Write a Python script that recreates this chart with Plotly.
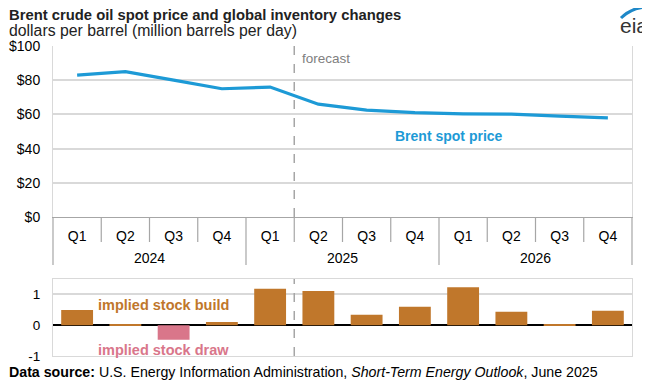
import plotly.graph_objects as go
from plotly.subplots import make_subplots

years = ["2024"] * 4 + ["2025"] * 4 + ["2026"] * 4
quarters = ["Q1", "Q2", "Q3", "Q4"] * 3
brent_price = [83, 85, 80, 75, 76, 66, 62.5, 61, 60.3, 60.2, 59, 58]
stock_change = [0.49, 0.03, -0.47, 0.1, 1.18, 1.11, 0.34, 0.6, 1.23, 0.44, 0.03, 0.47]
price_ticks = [0, 20, 40, 60, 80, 100]
price_labels = ["$0", "$20", "$40", "$60", "$80", "$100"]
stock_ticks = [-1, 0, 1]
stock_labels = ["-1", "0", "1"]

n = len(quarters)
idx = list(range(n))
year_names = list(dict.fromkeys(years))
year_pos = [sum(i for i in idx if years[i] == y) / years.count(y) for y in year_names]

W, H = 650, 381
OFF = 8  # page body margin offset in the browser
# plot area in screen pixels
SL, SR, ST, SB = 53, 632, 46, 356
L, T = SL - OFF, ST - OFF
R, B = W - (SR - OFF), H - (SB - OFF)
PW, PH = SR - SL, SB - ST


def px(sx):
    return (sx - SL) / PW


def py(sy):
    return (SB - sy) / PH


BLUE = "#1D9AD6"
BROWN = "#C0772B"
PINK = "#D9768A"
GRID = "#D9D9D9"
DARK = "#A6A6A6"
FONT = "Liberation Sans, Arial, sans-serif"

fig = make_subplots(rows=2, cols=1, shared_xaxes=False, vertical_spacing=0.0)

fig.add_trace(go.Scatter(x=idx, y=brent_price, mode="lines",
                         line=dict(color=BLUE, width=3.2), showlegend=False),
              row=1, col=1)

bar_colors = [BROWN if v >= 0 else PINK for v in stock_change]
fig.add_trace(go.Bar(x=idx, y=stock_change, marker_color=bar_colors,
                     marker_line_width=0, showlegend=False), row=2, col=1)

# invisible carrier trace for the year axis
fig.add_trace(go.Scatter(x=year_pos, y=[None] * len(year_pos), xaxis="x3", yaxis="y",
                         mode="markers", hoverinfo="skip", showlegend=False))

top_domain = [py(217), py(46)]
bot_domain = [py(356), py(279)]
xr = [-0.5, n - 0.5]

fig.update_layout(
    width=W, height=H,
    margin=dict(l=L, r=R, t=T, b=B, autoexpand=False),
    paper_bgcolor="white", plot_bgcolor="white",
    font=dict(family=FONT, color="#000000", size=14),
    bargap=0.34,
    xaxis=dict(domain=[0, 1], range=xr, tickvals=idx, ticktext=quarters,
               showline=True, linecolor=DARK, linewidth=1.2, mirror=False,
               showgrid=False, zeroline=False, automargin=False,
               tickfont=dict(size=14, color="#000000"), ticks="", ticklabelstandoff=6),
    xaxis3=dict(domain=[0, 1], range=xr, overlaying="x", anchor="free",
                position=py(244), side="bottom", tickvals=year_pos, ticktext=year_names,
                showline=False, showgrid=False, zeroline=False, automargin=False,
                tickfont=dict(size=14, color="#000000"), ticks="", ticklabelstandoff=4),
    yaxis=dict(domain=top_domain, range=[0, 100], tickvals=price_ticks,
               ticktext=price_labels, showgrid=True, gridcolor=GRID, gridwidth=1.5,
               zeroline=False, showline=True, linecolor=GRID, mirror=True,
               automargin=False,
               tickfont=dict(size=14, color="#000000"), ticks="", ticklabelstandoff=9),
    xaxis2=dict(domain=[0, 1], range=xr, showticklabels=False, showline=True,
                linecolor=GRID, mirror=True, showgrid=False, zeroline=False,
                ticks="", automargin=False),
    yaxis2=dict(domain=bot_domain, range=[-1, 1.5], tickvals=stock_ticks,
                ticktext=stock_labels,
                showgrid=True, gridcolor=GRID, gridwidth=1.5,
                zeroline=True, zerolinecolor="#000000", zerolinewidth=1.5,
                showline=True, linecolor=GRID, mirror=True, automargin=False,
                tickfont=dict(size=13.5, color="#000000"), ticks="", ticklabelstandoff=9),
)

# category dividers below the top panel
for k in range(n + 1):
    outer = (k % 4 == 0)
    fig.add_shape(type="line", xref="x domain", yref="paper", x0=k / n, x1=k / n,
                  y0=py(265 if outer else 242), y1=py(217),
                  line=dict(color=DARK, width=1.2))

# forecast dashed line
for d in (top_domain, bot_domain):
    fig.add_shape(type="line", xref="paper", yref="paper", x0=5 / 12, x1=5 / 12,
                  y0=d[0], y1=d[1], line=dict(color=DARK, width=1.5, dash="dash"))

ann = []
ann.append(dict(text="<b>Brent crude oil spot price and global inventory changes</b>",
                x=px(7), y=py(15), xanchor="left", yanchor="middle",
                font=dict(size=14.8, color="#222222")))
ann.append(dict(text="dollars per barrel (million barrels per day)",
                x=px(7), y=py(30.5), xanchor="left", yanchor="middle",
                font=dict(size=15.8, color="#222222")))
ann.append(dict(text="forecast", x=px(300), y=py(58), xanchor="left", yanchor="middle",
                font=dict(size=13.5, color="#808080")))
ann.append(dict(text="<b>Brent spot price</b>", x=px(449), y=py(136), xanchor="center",
                yanchor="middle", font=dict(size=14, color=BLUE)))
ann.append(dict(text="<b>implied stock build</b>", x=px(96), y=py(305), xanchor="left",
                yanchor="middle", font=dict(size=14.5, color=BROWN)))
ann.append(dict(text="<b>implied stock draw</b>", x=px(96), y=py(350), xanchor="left",
                yanchor="middle", font=dict(size=14.5, color=PINK)))
ann.append(dict(text="<b>Data source:</b> U.S. Energy Information Administration, "
                     "<i>Short-Term Energy Outlook</i>, June 2025",
                x=px(7), y=py(371.5), xanchor="left", yanchor="middle",
                font=dict(size=14.2, color="#000000")))
ann.append(dict(text="eia", x=px(618), y=py(25), xanchor="left", yanchor="middle",
                font=dict(size=21, color="#333333")))
for a in ann:
    a.update(xref="paper", yref="paper", showarrow=False)
fig.update_layout(annotations=ann)

# logo arc
fig.add_shape(type="path", xref="paper", yref="paper",
              path=f"M {px(621)},{py(18)} Q {px(633)},{py(6)} {px(652)},{py(7)}",
              line=dict(color="#1E88C8", width=3))

fig.write_html("out.html")
